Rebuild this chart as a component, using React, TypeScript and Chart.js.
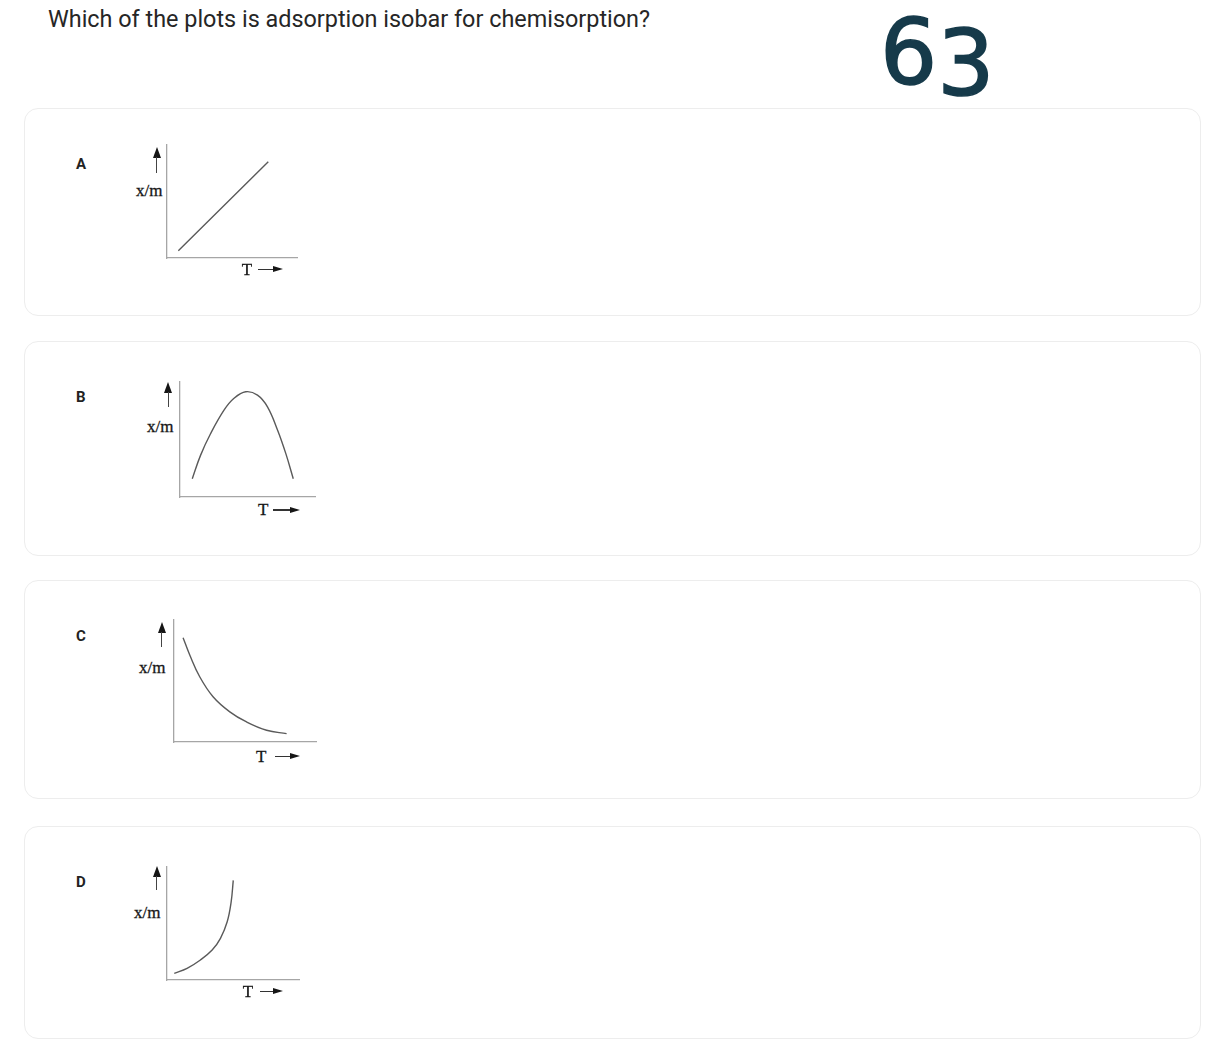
import React, { useEffect, useRef } from "react";
import { Chart, registerables } from "chart.js";

Chart.register(...registerables);

// ---------- text ----------
const QUESTION = "Which of the plots is adsorption isobar for chemisorption?";
const OPTION_LABELS = ["A", "B", "C", "D"];
const Y_LABEL = "x/m";
const X_LABEL = "T";
const NOTE_DIGITS = ["6", "3"];

// ---------- data (T in % of axis length, x/m in % of axis height) ----------
const A_T = [8.7, 77.9];
const A_XM = [6.5, 85.2];

const B_T = [9.1, 15.2, 22.7, 32.6, 40.0, 48.7, 57.4, 64.8, 72.3, 78.4, 83.9];
const B_XM = [15.9, 36.2, 55.2, 75.5, 85.8, 91.5, 88.6, 78.4, 58.1, 37.7, 15.9];

const C_T = [6.4, 11.1, 18.1, 27.5, 39.3, 51.1, 65.2, 79.3];
const C_XM = [85.5, 71.3, 53.5, 37.1, 24.7, 16.4, 9.6, 6.9];

const D_T = [5.5, 15.2, 25.3, 34.2, 40.5, 45.6, 48.6, 50.2];
const D_XM = [5.9, 10.3, 17.7, 26.5, 36.9, 51.5, 69.1, 88.2];

const SERIES_T = [A_T, B_T, C_T, D_T];
const SERIES_XM = [A_XM, B_XM, C_XM, D_XM];

// ---------- layout ----------
const PAD = 3;
const AXIS_COLOR = "#a6a6a6";
const CURVE_COLOR = "#5a5a5a";
const INK = "#161616";

type Layout = {
  card: { top: number; height: number };
  letterCy: number;
  axis: { left: number; right: number; top: number; bottom: number };
  up: { x: number; y1: number; y2: number };
  ylab: { left: number; cy: number };
  xlab: { left: number; cy: number; a1: number; a2: number };
};

const LAYOUTS: Layout[] = [
  {
    card: { top: 108, height: 208 },
    letterCy: 164,
    axis: { left: 167, right: 297, top: 145, bottom: 258 },
    up: { x: 156.7, y1: 147, y2: 173 },
    ylab: { left: 136, cy: 192.5 },
    xlab: { left: 241.7, cy: 269.5, a1: 258, a2: 283 },
  },
  {
    card: { top: 341, height: 215 },
    letterCy: 397,
    axis: { left: 179.5, right: 314, top: 382, bottom: 496.5 },
    up: { x: 168.3, y1: 381.5, y2: 406.5 },
    ylab: { left: 147, cy: 428.3 },
    xlab: { left: 258, cy: 510, a1: 273, a2: 300 },
  },
  {
    card: { top: 580, height: 219 },
    letterCy: 636,
    axis: { left: 174.3, right: 316, top: 620, bottom: 741.7 },
    up: { x: 161.7, y1: 622, y2: 647 },
    ylab: { left: 139, cy: 669 },
    xlab: { left: 256, cy: 756.5, a1: 275, a2: 300 },
  },
  {
    card: { top: 826, height: 213 },
    letterCy: 882,
    axis: { left: 166.7, right: 298.3, top: 866.7, bottom: 980 },
    up: { x: 156.7, y1: 866, y2: 890 },
    ylab: { left: 134, cy: 914 },
    xlab: { left: 242.7, cy: 991.5, a1: 260, a2: 283 },
  },
];

function MiniPlot({ t, xm, axis }: { t: number[]; xm: number[]; axis: Layout["axis"] }) {
  const ref = useRef<HTMLCanvasElement>(null);
  const w = Math.round(axis.right - axis.left) + PAD * 2;
  const h = Math.round(axis.bottom - axis.top) + PAD * 2;

  useEffect(() => {
    if (!ref.current) return;
    const axisOpts = {
      type: "linear" as const,
      min: 0,
      max: 100,
      grid: { display: false, drawTicks: false, tickLength: 0 },
      ticks: { display: false },
      border: { display: true, color: AXIS_COLOR, width: 1.3 },
    };
    const chart = new Chart(ref.current, {
      type: "line",
      data: {
        datasets: [
          {
            data: t.map((v, i) => ({ x: v, y: xm[i] })),
            borderColor: CURVE_COLOR,
            borderWidth: 1.4,
            pointRadius: 0,
            tension: 0.4,
            fill: false,
          },
        ],
      },
      options: {
        animation: false,
        responsive: false,
        events: [],
        layout: { padding: PAD },
        plugins: { legend: { display: false }, tooltip: { enabled: false } },
        scales: { x: axisOpts, y: axisOpts },
      },
    });
    return () => chart.destroy();
  }, []);

  return (
    <canvas
      ref={ref}
      width={w}
      height={h}
      style={{
        position: "absolute",
        left: Math.round(axis.left) - PAD,
        top: Math.round(axis.top) - PAD,
        width: w,
        height: h,
      }}
    />
  );
}

function UpArrow({ x, y1, y2 }: { x: number; y1: number; y2: number }) {
  const headH = 11;
  return (
    <>
      <div
        style={{
          position: "absolute",
          left: x - 4,
          top: y1,
          width: 0,
          height: 0,
          borderLeft: "4px solid transparent",
          borderRight: "4px solid transparent",
          borderBottom: `${headH}px solid ${INK}`,
        }}
      />
      <div
        style={{
          position: "absolute",
          left: x - 0.8,
          top: y1 + headH - 1,
          width: 1.6,
          height: y2 - y1 - headH + 1,
          background: "#444",
        }}
      />
    </>
  );
}

function RightArrow({ x1, x2, y }: { x1: number; x2: number; y: number }) {
  const headW = 10;
  return (
    <>
      <div
        style={{
          position: "absolute",
          left: x1,
          top: y - 0.8,
          width: x2 - x1 - headW + 1,
          height: 1.6,
          background: "#333",
        }}
      />
      <div
        style={{
          position: "absolute",
          left: x2 - headW,
          top: y - 3.5,
          width: 0,
          height: 0,
          borderTop: "3.5px solid transparent",
          borderBottom: "3.5px solid transparent",
          borderLeft: `${headW}px solid ${INK}`,
        }}
      />
    </>
  );
}

const SERIF = "'Liberation Serif', 'DejaVu Serif', serif";
const SERIF_F = 17;

export default function App() {
  return (
    <div
      style={{
        position: "absolute",
        left: 0,
        top: 0,
        width: 1224,
        height: 1054,
        background: "#ffffff",
      }}
    >
      <div
        style={{
          position: "absolute",
          left: 48,
          top: 7.6,
          fontFamily: "Roboto, 'Noto Sans', sans-serif",
          fontSize: 23.4,
          lineHeight: "23.4px",
          color: "#262626",
          whiteSpace: "nowrap",
        }}
      >
        {QUESTION}
      </div>

      <div
        style={{
          position: "absolute",
          left: 880,
          top: 0,
          fontFamily: "'DejaVu Sans', sans-serif",
          fontSize: 90,
          lineHeight: "normal",
          color: "#163a4a",
          WebkitTextStroke: "1.6px #163a4a",
          whiteSpace: "nowrap",
        }}
      >
        {NOTE_DIGITS[0]}
        <span style={{ position: "relative", top: 11 }}>{NOTE_DIGITS[1]}</span>
      </div>

      {LAYOUTS.map((L, i) => (
        <React.Fragment key={OPTION_LABELS[i]}>
          <div
            style={{
              position: "absolute",
              left: 24,
              top: L.card.top,
              width: 1177,
              height: L.card.height,
              boxSizing: "border-box",
              border: "1px solid #ededed",
              borderRadius: 14,
            }}
          />
          <div
            style={{
              position: "absolute",
              left: 76,
              top: L.letterCy - 7.5,
              fontFamily: "Roboto, sans-serif",
              fontWeight: 700,
              fontSize: 15,
              lineHeight: "15px",
              color: "#222",
            }}
          >
            {OPTION_LABELS[i]}
          </div>

          <MiniPlot t={SERIES_T[i]} xm={SERIES_XM[i]} axis={L.axis} />

          <UpArrow x={L.up.x} y1={L.up.y1} y2={L.up.y2} />

          <div
            style={{
              position: "absolute",
              left: L.ylab.left,
              top: L.ylab.cy - 0.608 * SERIF_F,
              fontFamily: SERIF,
              fontSize: SERIF_F,
              lineHeight: `${SERIF_F}px`,
              color: INK,
              whiteSpace: "nowrap",
              WebkitTextStroke: "0.3px #161616",
            }}
          >
            {Y_LABEL}
          </div>

          <div
            style={{
              position: "absolute",
              left: L.xlab.left,
              top: L.xlab.cy - 0.506 * SERIF_F,
              fontFamily: SERIF,
              fontSize: SERIF_F,
              lineHeight: `${SERIF_F}px`,
              color: INK,
              WebkitTextStroke: "0.3px #161616",
            }}
          >
            {X_LABEL}
          </div>
          <RightArrow x1={L.xlab.a1} x2={L.xlab.a2} y={L.xlab.cy} />
        </React.Fragment>
      ))}
    </div>
  );
}
